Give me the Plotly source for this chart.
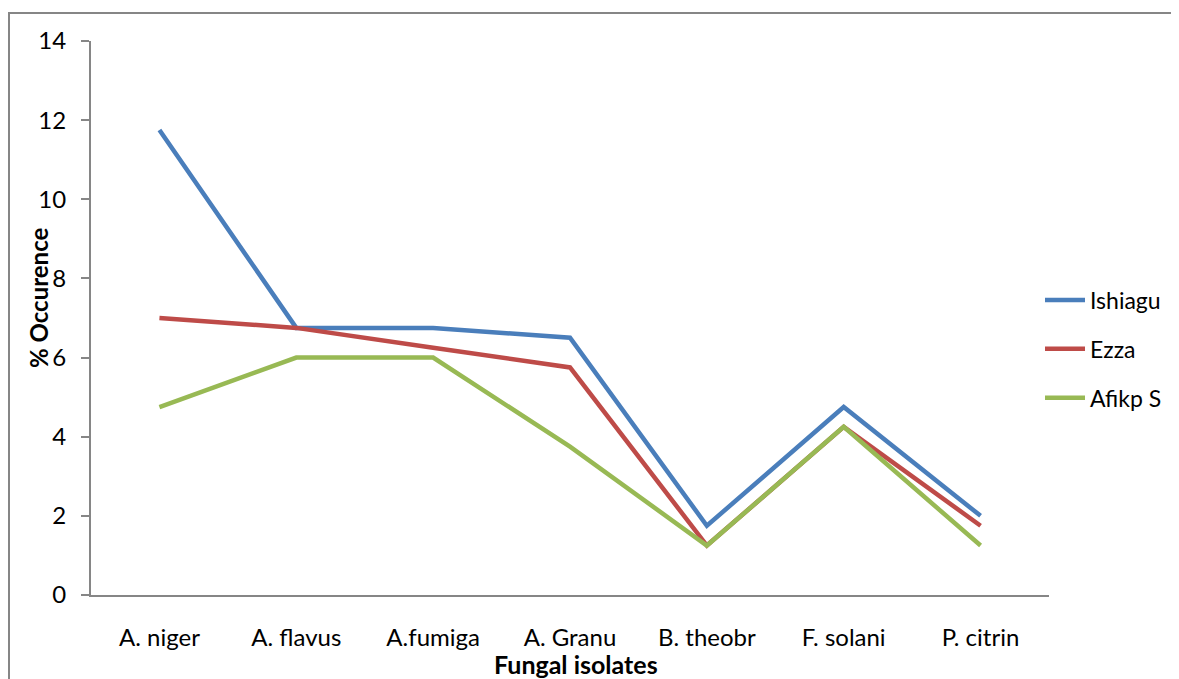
import plotly.graph_objects as go

categories = ["A. niger", "A. flavus", "A.fumiga", "A. Granu", "B. theobr", "F. solani", "P. citrin"]
ishiagu = [11.75, 6.75, 6.75, 6.5, 1.75, 4.75, 2.0]
ezza = [7.0, 6.75, 6.25, 5.75, 1.25, 4.25, 1.75]
afikp = [4.75, 6.0, 6.0, 3.75, 1.25, 4.25, 1.25]
y_ticks = [0, 2, 4, 6, 8, 10, 12, 14]

FONT = "Lato"
L, T, PW, PH = 83, 33, 958, 554
B = 587  # figure y of plot bottom


def px(x):
    return (x - L) / PW


def py(y):
    return (B - y) / PH


fig = go.Figure()
for name, vals, col in [("Ishiagu", ishiagu, "#4A7EBB"), ("Ezza", ezza, "#BE4B48"), ("Afikp S", afikp, "#98B954")]:
    fig.add_trace(go.Scatter(x=categories, y=vals, mode="lines", name=name, legendgroup=name,
                             line=dict(color=col, width=4.5)))

fig.update_layout(
    width=1179, height=679,
    margin=dict(l=L, r=1179 - L - PW, t=T, b=679 - T - PH),
    plot_bgcolor="white", paper_bgcolor="white",
    font=dict(family=FONT, size=24, color="black"),
    showlegend=True,
    legend=dict(x=px(1032), xanchor="left", y=py(341), yanchor="middle",
                font=dict(family=FONT, size=23, color="black"), traceorder="grouped",
                tracegroupgap=16, itemwidth=40, bgcolor="rgba(0,0,0,0)"),
    xaxis=dict(type="category", range=[-0.5, 6.5], showline=True, linecolor="#868686",
               linewidth=2, ticks="", showgrid=False, zeroline=False,
               ticklabelstandoff=20, tickfont=dict(family=FONT, size=24)),
    yaxis=dict(range=[0, 14], tickvals=y_ticks, showline=True, linecolor="#868686",
               linewidth=2, ticks="outside", ticklen=8, tickcolor="#868686", tickwidth=2,
               showgrid=False, zeroline=False, ticklabelstandoff=10,
               tickfont=dict(family=FONT, size=24)),
    shapes=[dict(type="rect", xref="paper", yref="paper", x0=px(1), x1=1.3, y0=-0.3, y1=py(5),
                 line=dict(color="#868686", width=2), layer="below")],
    annotations=[
        dict(text="<b>% Occurence</b>", xref="paper", yref="paper", x=px(30), y=py(290),
             textangle=-90, showarrow=False, font=dict(family=FONT, size=24), xanchor="center", yanchor="middle"),
        dict(text="<b>Fungal isolates</b>", xref="paper", yref="paper", x=px(568), y=py(656),
             showarrow=False, font=dict(family=FONT, size=25), xanchor="center", yanchor="middle"),
    ],
)
fig.write_html("out.html")
